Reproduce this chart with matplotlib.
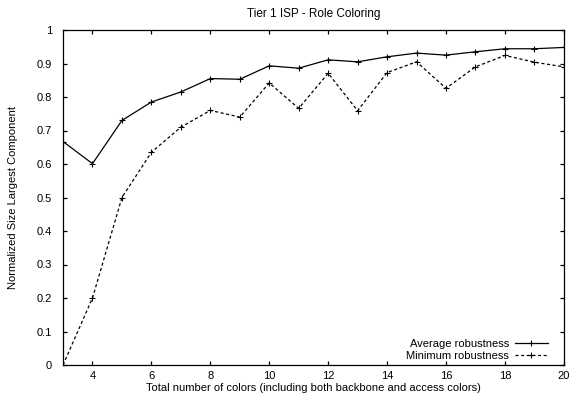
import numpy as np
import matplotlib
matplotlib.use('Agg')
import matplotlib.pyplot as plt

plt.rcParams['font.family'] = ['Liberation Sans', 'DejaVu Sans']
plt.rcParams['font.size'] = 8

# Data
colors = [3, 4, 5, 6, 7, 8, 9, 10, 11, 12, 13, 14, 15, 16, 17, 18, 19, 20]
avg_robust = [0.667, 0.601, 0.730, 0.785, 0.815, 0.855, 0.853, 0.893, 0.886, 0.911,
              0.905, 0.920, 0.931, 0.925, 0.935, 0.944, 0.944, 0.948]
min_robust = [0.0, 0.200, 0.500, 0.635, 0.710, 0.760, 0.740, 0.842, 0.766, 0.871,
              0.759, 0.873, 0.905, 0.826, 0.890, 0.924, 0.904, 0.890]
x_ticks = [4, 6, 8, 10, 12, 14, 16, 18, 20]
y_ticks = [0, 0.1, 0.2, 0.3, 0.4, 0.5, 0.6, 0.7, 0.8, 0.9, 1]
y_labels = ['0', '0.1', '0.2', '0.3', '0.4', '0.5', '0.6', '0.7', '0.8', '0.9', '1']

fig = plt.figure(figsize=(5.73, 4.0), dpi=100)
ax = fig.add_axes([0.110, 0.0875, 0.874, 0.8375])

ax.plot(colors, avg_robust, color='black', linewidth=0.9, marker='+',
        markersize=4.5, markeredgewidth=0.8, label='Average robustness')
ax.plot(colors, min_robust, color='black', linewidth=0.9, linestyle=(0, (2.5, 2)),
        marker='+', markersize=4.5, markeredgewidth=0.8, label='Minimum robustness')

ax.set_xlim(3, 20)
ax.set_ylim(0, 1)
ax.set_xticks(x_ticks)
ax.set_yticks(y_ticks)
ax.set_yticklabels(y_labels)
ax.tick_params(direction='in', top=True, right=True, length=3, width=0.9)
ax.tick_params(axis='x', pad=4)
ax.tick_params(axis='y', pad=8)
for s in ax.spines.values():
    s.set_linewidth(0.9)

ax.set_title('Tier 1 ISP - Role Coloring', fontsize=8.5, pad=9)
ax.set_xlabel('Total number of colors (including both backbone and access colors)', labelpad=2)
ax.set_ylabel('Normalized Size Largest Component', labelpad=13)

ax.legend(loc='lower right', bbox_to_anchor=(0.977, 0.0), frameon=False,
          markerfirst=False, handlelength=3.0, labelspacing=0.15,
          borderaxespad=0, borderpad=0.4, handletextpad=0.5)

fig.savefig('out.png', dpi=100)
